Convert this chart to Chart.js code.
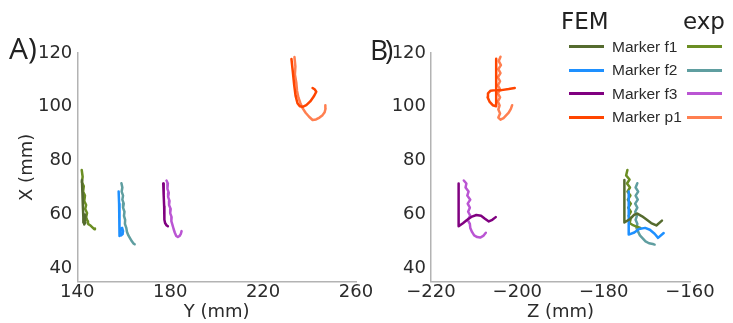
<!DOCTYPE html>
<html lang="en">
<head>
<meta charset="UTF-8">
<title>Marker trajectories FEM vs exp</title>
<script src="https://cdn.jsdelivr.net/npm/chart.js"></script>
<style>
    body {
        margin: 0;
        background: #fff;
        width: 733px;
        height: 323px;
        overflow: hidden;
        position: relative;
        font-family: 'DejaVu Sans', sans-serif;
        color: #2b2b2b;
    }
    canvas { position: absolute; top: 0; }
    #chartA { left: 0; }
    #chartB { left: 380px; }
    .panel {
        position: absolute;
        font-family: 'Open Sans', sans-serif;
        font-size: 30px;
        line-height: 30px;
        color: #222;
    }
    .head {
        position: absolute;
        font-size: 23px;
        line-height: 23px;
        color: #222;
        top: 10px;
    }
    .swatch { position: absolute; width: 35px; height: 3px; }
    .lbl {
        position: absolute;
        left: 612px;
        font-family: 'Liberation Sans', Arial, sans-serif;
        font-size: 15.5px;
        line-height: 15.5px;
        color: #2b2b2b;
        white-space: nowrap;
    }
</style>
</head>
<body>
<canvas id="chartA" width="380" height="323"></canvas>
<canvas id="chartB" width="360" height="323"></canvas>
<div class="panel" style="left:9px; top:33px;">A)</div>
<div class="panel" style="left:370px; top:34px; font-size:28px; letter-spacing:-3px;">B)</div>
<div class="head" style="left:561px;">FEM</div>
<div class="head" style="left:683px;">exp</div>
<div id="legend"></div>
<script>
// panel A: [Y, X] in mm
const femF1_A = [[142.0,72.8],[142.2,68.0],[142.4,63.0],[142.6,59.0],[142.6,57.0],[142.9,58.5],[143.3,60.0],[143.5,59.5],[143.2,57.5],[143.0,56.3],[143.4,57.0]];
const expF1_A = [[141.9,76.5],[142.3,74.0],[142.0,72.0],[142.8,70.5],[142.5,68.5],[143.3,67.0],[143.0,65.0],[143.8,63.5],[143.4,62.0],[144.2,60.5],[143.8,59.0],[144.4,57.5],[144.6,56.5],[145.5,56.0],[146.5,55.2],[147.3,54.5],[147.6,54.8]];
const femF2_A = [[157.8,68.5],[158.0,64.0],[158.1,60.0],[158.2,56.0],[158.3,53.0],[158.1,52.0],[158.7,54.5],[159.3,55.0],[159.7,53.8],[159.4,52.6],[158.9,52.2],[159.6,52.8]];
const expF2_A = [[159.0,71.6],[159.4,70.0],[159.1,68.5],[159.7,67.0],[159.4,65.5],[160.0,64.0],[159.7,62.5],[160.3,61.0],[160.1,59.5],[160.6,58.0],[160.5,56.5],[161.1,55.0],[161.4,53.5],[162.0,52.2],[162.8,51.0],[163.5,50.0],[164.2,49.2],[164.7,48.9]];
const femF3_A = [[177.0,71.5],[177.2,67.0],[177.4,63.0],[177.6,59.5],[177.4,58.0],[177.8,56.8],[178.4,56.0],[179.0,55.6]];
const expF3_A = [[178.4,72.6],[179.0,71.5],[178.8,69.5],[179.4,68.0],[179.1,66.5],[179.7,65.0],[179.5,63.5],[180.2,62.0],[180.0,60.5],[180.6,59.0],[180.5,57.5],[181.0,56.0],[181.5,54.5],[182.0,53.2],[182.6,52.0],[183.3,51.6],[184.0,52.0],[184.6,52.8],[184.9,53.8]];
const femP1_A = [[232.2,117.8],[232.8,113.0],[233.4,108.0],[234.0,104.0],[234.8,101.3],[235.8,100.2],[237.0,100.0],[238.6,100.6],[240.3,102.0],[241.8,103.8],[242.9,105.6],[242.3,106.4],[241.3,107.0]];
const expP1_A = [[233.5,118.5],[233.9,115.0],[233.7,112.0],[234.3,109.0],[234.6,106.0],[235.2,103.5],[236.0,101.5],[237.0,99.5],[238.3,97.8],[239.8,96.3],[241.3,95.1],[242.8,95.3],[244.3,96.0],[245.6,96.9],[246.5,98.0],[246.9,99.4],[246.8,100.6]];

// panel B: [Z, X] in mm
const femF1_B = [[-175.2,72.8],[-175.2,65.0],[-175.2,57.0],[-173.9,58.3],[-172.9,59.9],[-172.2,60.3],[-171.1,59.3],[-170.0,58.0],[-169.0,56.8],[-167.8,55.9],[-166.5,57.7]];
const expF1_B = [[-174.5,76.5],[-174.8,74.5],[-174.0,73.0],[-174.6,71.5],[-173.9,70.0],[-174.5,68.5],[-173.8,67.0],[-174.4,65.5],[-173.7,64.0],[-174.3,62.5],[-173.7,61.0],[-174.2,59.5],[-173.8,58.0],[-174.0,56.8],[-173.2,56.0],[-172.4,55.5],[-171.5,55.0]];
const femF2_B = [[-174.2,68.5],[-174.2,60.0],[-174.2,52.5],[-172.9,53.3],[-171.8,54.6],[-170.4,55.0],[-169.3,54.3],[-168.2,52.8],[-167.4,51.3],[-166.1,53.1]];
const expF2_B = [[-172.2,71.6],[-172.6,70.0],[-172.0,68.5],[-172.6,67.0],[-172.1,65.5],[-172.7,64.0],[-172.2,62.5],[-172.7,61.0],[-172.3,59.5],[-172.6,58.0],[-172.2,56.5],[-172.4,55.0],[-172.0,53.5],[-171.6,52.2],[-170.9,51.0],[-170.3,50.0],[-169.5,49.3],[-168.6,49.0],[-168.2,48.8]];
const femF3_B = [[-213.6,71.5],[-213.6,63.0],[-213.6,55.6],[-212.6,56.7],[-211.6,58.0],[-210.5,59.2],[-209.5,59.8],[-208.4,59.5],[-207.5,58.4],[-206.6,57.4],[-205.8,58.0],[-205.0,59.0]];
const expF3_B = [[-212.4,72.6],[-211.8,71.5],[-212.0,70.0],[-211.3,68.5],[-211.6,67.0],[-210.9,65.5],[-211.5,64.0],[-211.0,62.5],[-211.4,61.0],[-210.9,59.5],[-211.5,58.0],[-211.0,56.5],[-210.9,55.0],[-210.5,53.5],[-210.0,52.2],[-209.3,51.6],[-208.6,51.4],[-207.9,52.0],[-207.3,53.2]];
const femP1_B = [[-204.9,117.9],[-204.9,110.0],[-204.9,104.0],[-204.9,100.2],[-205.7,100.6],[-206.4,101.8],[-206.9,103.6],[-206.8,105.0],[-206.2,106.0],[-205.0,106.2],[-203.7,106.2],[-202.0,106.6],[-200.6,107.0]];
const expP1_B = [[-203.9,118.6],[-204.3,117.0],[-203.8,115.5],[-204.4,114.0],[-203.9,112.5],[-204.5,111.0],[-204.0,109.5],[-204.5,108.0],[-204.0,106.5],[-204.5,105.0],[-204.0,103.5],[-204.5,102.0],[-204.1,100.5],[-204.4,99.0],[-204.0,97.5],[-204.4,96.0],[-203.9,95.2],[-203.2,95.8],[-202.6,96.8],[-202.0,97.8],[-201.5,99.2],[-201.2,100.6]];

const markerNames = ['Marker f1', 'Marker f2', 'Marker f3', 'Marker p1'];
const femColors = ['#556b2f', '#1e90ff', '#800080', '#ff4500'];
const expColors = ['#6b8e23', '#5f9ea0', '#ba55d3', '#ff7f50'];
const xTicksA = [140, 180, 220, 260];
const xTicksB = [-220, -200, -180, -160];
const yTicks = [40, 60, 80, 100, 120];

const axisColor = '#b3b3b3';
const textColor = '#2b2b2b';
const tickFont = { family: 'DejaVu Sans', size: 18 };

function series(pts, color) {
    return {
        data: pts.map(p => ({ x: p[0], y: p[1] })),
        borderColor: color,
        borderWidth: 2.5,
        borderCapStyle: 'round',
        borderJoinStyle: 'round',
        pointRadius: 0,
        showLine: true,
        fill: false,
        tension: 0
    };
}

function fmt(v) {
    return v < 0 ? '\u2212' + Math.abs(v) : String(v);
}

function makeChart(id, fem, exp, xMin, xMax, xTicks, xTitle, yTitle, yWidth, padRight) {
    // FEM first so it sits on top of the exp traces
    const datasets = fem.map((d, i) => series(d, femColors[i]))
        .concat(exp.map((d, i) => series(d, expColors[i])));
    new Chart(document.getElementById(id), {
        type: 'scatter',
        data: { datasets: datasets },
        options: {
            responsive: false,
            animation: false,
            layout: { padding: { left: 0, right: padRight, top: 53, bottom: 0 } },
            plugins: { legend: { display: false }, tooltip: { enabled: false } },
            scales: {
                x: {
                    type: 'linear', min: xMin, max: xMax,
                    grid: { display: false, drawTicks: false },
                    border: { display: true, color: axisColor, width: 1.5 },
                    ticks: { color: textColor, font: tickFont, padding: 0, maxRotation: 0, callback: v => fmt(v) },
                    afterBuildTicks: s => { s.ticks = xTicks.map(v => ({ value: v })); },
                    afterFit: s => { s.height = 41.3; },
                    title: { display: true, text: xTitle, color: textColor, font: tickFont, padding: { top: 0, bottom: 0 } }
                },
                y: {
                    type: 'linear', min: 35, max: 120,
                    grid: { display: false, drawTicks: false },
                    border: { display: true, color: axisColor, width: 1.5 },
                    ticks: { color: textColor, font: tickFont, padding: 5, callback: v => fmt(v) },
                    afterBuildTicks: s => { s.ticks = yTicks.map(v => ({ value: v })); },
                    afterFit: s => { s.width = yWidth; },
                    title: { display: !!yTitle, text: yTitle, color: textColor, font: tickFont, padding: { top: 16.5, bottom: 0 } }
                }
            }
        }
    });
}

makeChart('chartA', [femF1_A, femF2_A, femF3_A, femP1_A], [expF1_A, expF2_A, expF3_A, expP1_A],
    140, 260, xTicksA, 'Y (mm)', 'X (mm)', 77.3, 24);
makeChart('chartB', [femF1_B, femF2_B, femF3_B, femP1_B], [expF1_B, expF2_B, expF3_B, expP1_B],
    -220, -160, xTicksB, 'Z (mm)', '', 51, 50);

// two-column legend: FEM line, name, exp line
const legend = document.getElementById('legend');
const rowY = [46.7, 70, 93.3, 117];
markerNames.forEach((name, i) => {
    legend.insertAdjacentHTML('beforeend',
        `<div class="swatch" style="left:569px; top:${rowY[i] - 1.5}px; background:${femColors[i]}"></div>` +
        `<div class="lbl" style="top:${rowY[i] - 7.6}px">${name}</div>` +
        `<div class="swatch" style="left:687px; top:${rowY[i] - 1.5}px; background:${expColors[i]}"></div>`);
});
</script>
</body>
</html>
